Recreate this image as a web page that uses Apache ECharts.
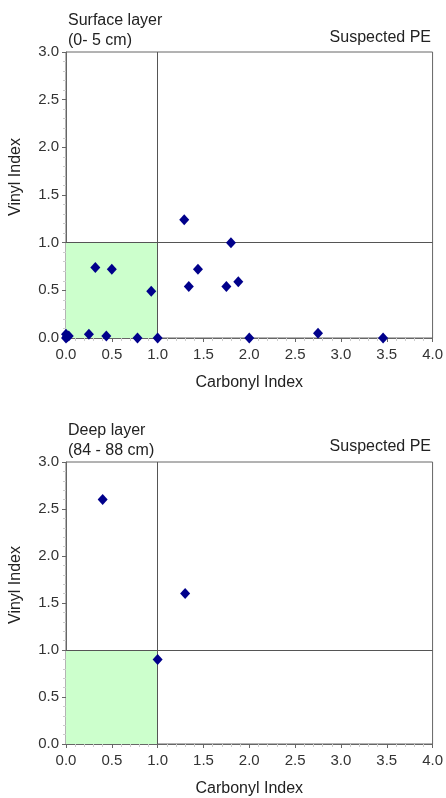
<!DOCTYPE html>
<html>
<head>
<meta charset="utf-8">
<script src="https://cdn.jsdelivr.net/npm/echarts@6/dist/echarts.min.js"></script>
<style>
  html, body { margin: 0; padding: 0; background: #fff; }
  #chart { width: 446px; height: 798px; }
</style>
</head>
<body>
<div id="chart"></div>
<script>
const chart = echarts.init(document.getElementById('chart'));

// Surface layer (0-5 cm)
const surfaceCarbonyl = [0.00, 0.03, 0.00, 0.01, 0.25, 0.44, 0.78, 1.00, 0.32, 0.50, 0.93, 1.29, 1.34, 1.44, 1.75, 1.80, 1.88, 2.00, 2.75, 3.46];
const surfaceVinyl    = [0.04, 0.02, 0.00, 0.01, 0.04, 0.02, 0.00, 0.00, 0.74, 0.72, 0.49, 1.24, 0.54, 0.72, 0.54, 1.00, 0.59, 0.00, 0.05, 0.00];

// Deep layer (84-88 cm)
const deepCarbonyl = [0.40, 1.30, 1.00];
const deepVinyl    = [2.60, 1.60, 0.90];

const xTicks = { min: 0, max: 4, interval: 0.5 };
const yTicks = { min: 0, max: 3, interval: 0.5 };
const threshold = 1.0;

const font = 'Liberation Sans, Arial, sans-serif';
const textColor = '#222';

const pairs = (xs, ys) => xs.map((x, i) => [x, ys[i]]);

function xAxis(gridIndex) {
  return {
    type: 'value',
    gridIndex,
    ...xTicks,
    name: 'Carbonyl Index',
    nameLocation: 'middle',
    nameGap: 37,
    nameTextStyle: { color: textColor, fontSize: 16, fontFamily: font },
    axisLine: { show: true, lineStyle: { color: '#666', width: 1 } },
    axisTick: { show: true, length: 4, lineStyle: { color: '#666' } },
    minorTick: { show: true, splitNumber: 5, length: 3, lineStyle: { color: '#ccc' } },
    splitLine: { show: false },
    axisLabel: { color: '#333', fontSize: 15, fontFamily: font, margin: 9, formatter: (v) => v.toFixed(1) }
  };
}

function yAxis(gridIndex) {
  return {
    type: 'value',
    gridIndex,
    ...yTicks,
    name: 'Vinyl Index',
    nameLocation: 'middle',
    nameGap: 42,
    nameTextStyle: { color: textColor, fontSize: 16, fontFamily: font, padding: [0, 0, 0, 36] },
    axisLine: { show: true, lineStyle: { color: '#666', width: 1 } },
    axisTick: { show: true, length: 4, lineStyle: { color: '#666' } },
    minorTick: { show: true, splitNumber: 5, length: 3, lineStyle: { color: '#ccc' } },
    splitLine: { show: false },
    axisLabel: { color: '#333', fontSize: 15, fontFamily: font, margin: 7, formatter: (v) => v.toFixed(1) }
  };
}

function series(idx, data) {
  return {
    type: 'scatter',
    xAxisIndex: idx,
    yAxisIndex: idx,
    data,
    clip: false,
    symbol: 'diamond',
    symbolSize: [10, 11],
    itemStyle: { color: '#00008b', opacity: 1 },
    z: 5,
    markArea: {
      silent: true,
      itemStyle: { color: '#ccffcc' },
      data: [[{ coord: [0, 0] }, { coord: [threshold, threshold] }]]
    },
    markLine: {
      silent: true,
      symbol: 'none',
      label: { show: false },
      lineStyle: { color: '#555', width: 1, type: 'solid' },
      data: [{ xAxis: threshold }, { yAxis: threshold }]
    }
  };
}

const titleStyle = { color: textColor, fontSize: 16, fontWeight: 'normal', fontFamily: font, lineHeight: 20 };

chart.setOption({
  animation: false,
  title: [
    { text: 'Surface layer\n(0- 5 cm)', left: 63, top: 6, textStyle: titleStyle },
    { text: 'Suspected PE', right: 10, top: 23, textStyle: titleStyle },
    { text: 'Deep layer\n(84 - 88 cm)', left: 63, top: 416, textStyle: titleStyle },
    { text: 'Suspected PE', right: 10, top: 432, textStyle: titleStyle }
  ],
  grid: [
    { left: 66, top: 52, width: 368, height: 286, show: true, borderColor: '#666', borderWidth: 1, backgroundColor: 'transparent' },
    { left: 66, top: 462, width: 368, height: 286, show: true, borderColor: '#666', borderWidth: 1, backgroundColor: 'transparent' }
  ],
  xAxis: [xAxis(0), xAxis(1)],
  yAxis: [yAxis(0), yAxis(1)],
  series: [
    series(0, pairs(surfaceCarbonyl, surfaceVinyl)),
    series(1, pairs(deepCarbonyl, deepVinyl))
  ]
});
</script>
</body>
</html>
